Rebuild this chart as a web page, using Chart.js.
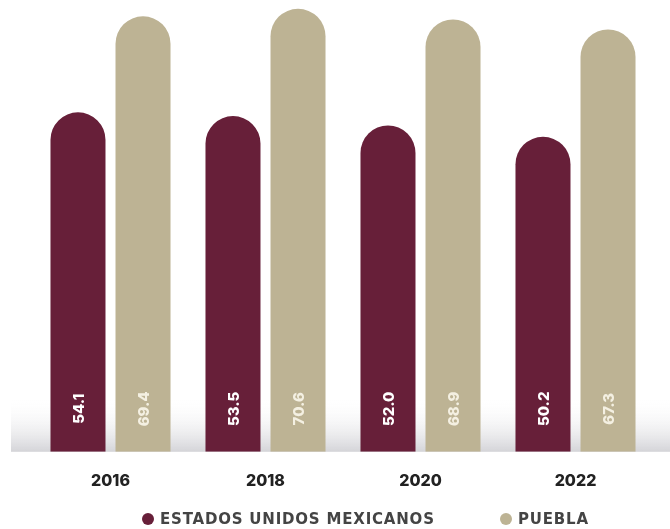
<!DOCTYPE html>
<html>
<head>
<meta charset="utf-8">
<script src="https://cdn.jsdelivr.net/npm/chart.js@4.4.1/dist/chart.umd.min.js"></script>
<style>
  html, body { margin: 0; padding: 0; background: #fff; }
  #wrap { width: 670px; height: 529px; position: relative; }
  #legend {
    position: absolute; left: 0; top: 509px; width: 670px; height: 20px;
    font: bold 15px "DejaVu Sans", sans-serif; color: #444; letter-spacing: 0.8px;
  }
  #legend span { position: absolute; top: 0; line-height: 20px; white-space: nowrap; }
  #legend i {
    position: absolute; top: 4px; width: 12px; height: 12px; border-radius: 50%;
  }
</style>
</head>
<body>
<div id="wrap"><canvas id="chart"></canvas><div id="legend"></div></div>
<script>
// Data
const years = ['2016', '2018', '2020', '2022'];
const nacional = [54.1, 53.5, 52.0, 50.2];
const puebla = [69.4, 70.6, 68.9, 67.3];
const seriesNames = ['ESTADOS UNIDOS MEXICANOS', 'PUEBLA'];

const maroon = '#671f39';
const beige = '#bdb394';

// soft grey fade behind the bar bottoms
const floorShade = {
  id: 'floorShade',
  beforeDatasetsDraw(chart) {
    const { ctx, chartArea } = chart;
    const top = chartArea.bottom - 54;
    const g = ctx.createLinearGradient(0, top, 0, chartArea.bottom);
    g.addColorStop(0, 'rgba(255,255,255,0)');
    g.addColorStop(1, 'rgba(212,212,216,1)');
    ctx.save();
    ctx.fillStyle = g;
    ctx.fillRect(11, top, chart.width - 11, chartArea.bottom - top);
    ctx.restore();
  },
};

// rotated value labels near the bar bottoms
const valueLabels = {
  id: 'valueLabels',
  afterDatasetsDraw(chart) {
    const { ctx, chartArea } = chart;
    ctx.save();
    ctx.font = '800 15px Inter, sans-serif';
    ctx.textAlign = 'center';
    ctx.textBaseline = 'middle';
    chart.data.datasets.forEach((ds, di) => {
      const meta = chart.getDatasetMeta(di);
      ctx.fillStyle = di === 0 ? '#ffffff' : '#f4f0e2';
      meta.data.forEach((bar, i) => {
        ctx.save();
        ctx.translate(bar.x, chartArea.bottom - 43);
        ctx.rotate(-Math.PI / 2);
        ctx.fillText(ds.data[i].toFixed(1), 0, 1);
        ctx.restore();
      });
    });
    ctx.restore();
  },
};

const chart = new Chart(document.getElementById('chart'), {
  type: 'bar',
  data: {
    labels: years,
    datasets: [
      { label: seriesNames[0], data: nacional, backgroundColor: maroon },
      { label: seriesNames[1], data: puebla, backgroundColor: beige },
    ],
  },
  options: {
    responsive: true,
    maintainAspectRatio: false,
    animation: false,
    layout: { padding: { left: 33, right: 17, top: 0, bottom: 18 } },
    datasets: {
      bar: {
        categoryPercentage: 0.839,
        barPercentage: 0.846,
        borderRadius: { topLeft: 100, topRight: 100 },
        borderSkipped: 'bottom',
      },
    },
    scales: {
      x: {
        grid: { display: false, drawTicks: false },
        border: { display: false },
        ticks: {
          color: '#222',
          padding: 20,
          font: { family: 'Inter, sans-serif', size: 16, weight: '800' },
        },
      },
      y: {
        display: false,
        min: 0,
        max: 72,
      },
    },
    plugins: {
      legend: { display: false },
      tooltip: { enabled: false },
    },
  },
  plugins: [floorShade, valueLabels],
});

// Legend below the plot
const legendEl = document.getElementById('legend');
const legendX = [142, 500];
chart.data.datasets.forEach((ds, i) => {
  const dot = document.createElement('i');
  dot.style.left = legendX[i] + 'px';
  dot.style.background = ds.backgroundColor;
  const txt = document.createElement('span');
  txt.style.left = (legendX[i] + 18) + 'px';
  txt.textContent = ds.label;
  legendEl.appendChild(dot);
  legendEl.appendChild(txt);
});
</script>
</body>
</html>
